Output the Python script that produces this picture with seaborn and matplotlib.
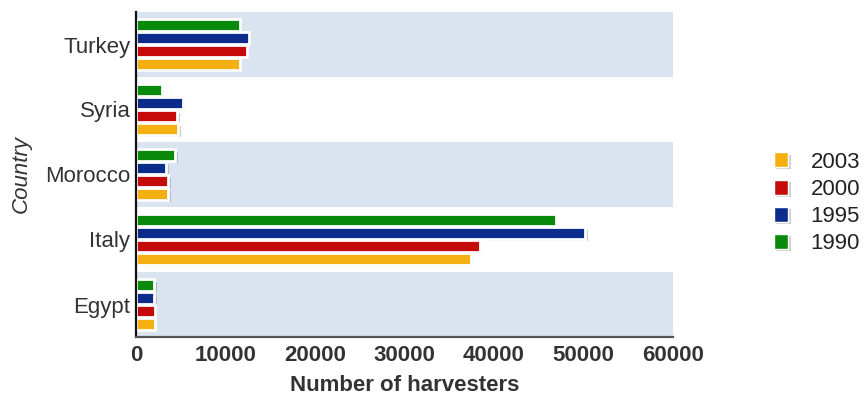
import matplotlib
matplotlib.use("Agg")
import matplotlib.pyplot as plt
import matplotlib.patheffects as pe
from matplotlib.patches import Patch
import seaborn as sns
import pandas as pd

countries = ["Turkey", "Syria", "Morocco", "Italy", "Egypt"]
years = ["1990", "1995", "2000", "2003"]
v1990 = [11600, 2900, 4400, 46900, 2050]
v1995 = [12600, 5200, 3400, 50200, 2050]
v2000 = [12400, 4600, 3600, 38400, 2100]
v2003 = [11600, 4700, 3600, 37400, 2100]
xticks = [0, 10000, 20000, 30000, 40000, 50000, 60000]

colors = {"1990": "#0a8a0a", "1995": "#0c2c8c", "2000": "#c40a0a", "2003": "#f4b012"}

rows = []
for yr, vals in zip(years, [v1990, v1995, v2000, v2003]):
    for c, v in zip(countries, vals):
        rows.append({"Country": c, "Year": yr, "Harvesters": v})
df = pd.DataFrame(rows)

sns.set_style("white")
plt.rcParams["font.family"] = ["Liberation Sans", "DejaVu Sans"]
txt = "#333333"
fs = 16

fig = plt.figure(figsize=(8.64, 3.96), dpi=100)
ax = fig.add_axes([136/864, 1-337/396, (673-136)/864, (337-12)/396])

for i in range(len(countries)):
    if i % 2 == 0:
        ax.axhspan(i-0.5, i+0.5, color="#dae4f0", zorder=0, lw=0)

sns.barplot(data=df, y="Country", x="Harvesters", hue="Year", order=countries,
            hue_order=years, palette=colors, orient="h", width=0.8, gap=0.14,
            saturation=1, edgecolor="white", linewidth=2.0, errorbar=None, ax=ax,
            zorder=2, legend=False)

for cont in ax.containers:
    for p in cont:
        p.set_path_effects([pe.SimplePatchShadow(offset=(1.8, -1.8), shadow_rgbFace="#888888", alpha=0.45),
                            pe.Normal()])

ax.set_xlim(0, 60000)
ax.set_ylim(4.5, -0.5)
ax.set_xticks(xticks)
ax.set_xticklabels([str(t) for t in xticks], fontsize=fs, fontweight="bold", color=txt)
ax.tick_params(axis="y", labelsize=fs, labelcolor=txt, length=0, pad=4)
ax.tick_params(axis="x", length=0, pad=6)
ax.set_xlabel("Number of harvesters", fontsize=fs, fontweight="bold", color=txt, labelpad=6)
ax.set_ylabel("Country", fontsize=fs, fontstyle="italic", color=txt, labelpad=10)

for s in ["top", "right"]:
    ax.spines[s].set_visible(False)
ax.spines["left"].set_color("#111111")
ax.spines["left"].set_linewidth(1.6)
ax.spines["bottom"].set_color("#555555")
ax.spines["bottom"].set_linewidth(1.6)

handles = [Patch(facecolor=colors[y], edgecolor="white", linewidth=1.0,
                 path_effects=[pe.SimplePatchShadow(offset=(1.5, -1.5), shadow_rgbFace="#888888", alpha=0.4), pe.Normal()])
           for y in years[::-1]]
leg = fig.legend(handles, years[::-1], loc="center left", bbox_to_anchor=(774/864, 1-203/396),
                 frameon=False, fontsize=fs, handlelength=0.65, handleheight=0.65,
                 handletextpad=1.0, labelspacing=0.28, borderaxespad=0, borderpad=0)
for t in leg.get_texts():
    t.set_color("#222222")

fig.savefig("out.png", dpi=100)
